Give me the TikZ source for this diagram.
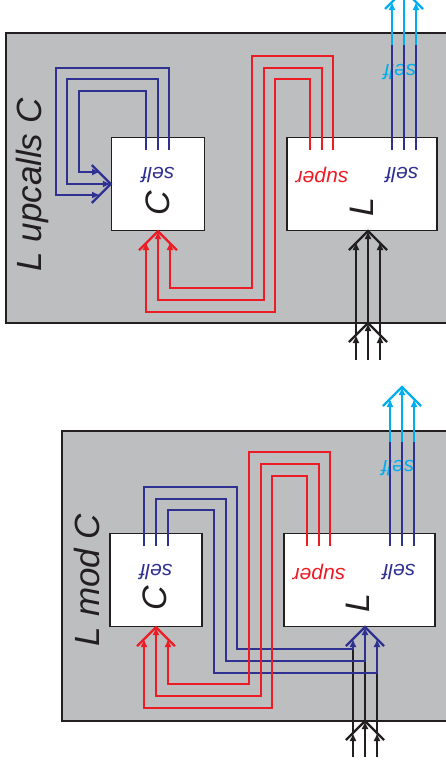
\documentclass[tikz,border=0pt]{standalone}
\usepackage{fontspec}
\setsansfont{Liberation Sans}
\usetikzlibrary{arrows.meta}
\definecolor{MixInk}{HTML}{231F20}
\definecolor{MixPanel}{HTML}{BCBEC0}
\definecolor{MixSelf}{HTML}{2E3192}
\definecolor{MixSuper}{HTML}{ED1C24}
\definecolor{MixOut}{HTML}{00AEEF}
\tikzset{
  mix panel/.style={draw=MixInk, fill=MixPanel, line width=1.3pt},
  mix box/.style={draw=MixInk, fill=white, line width=1.3pt, inner sep=0pt},
  mix wire/.style={line width=2.3pt, line join=miter},
  mix tip/.style={mix wire, -{Latex[length=8pt,width=7pt]}},
  mix title/.style={font=\sffamily\itshape\fontsize{35}{40}\selectfont, text=MixInk, rotate=90},
  mix name/.style={font=\sffamily\itshape\fontsize{34}{40}\selectfont, text=MixInk, rotate=90},
  mix call/.style={font=\sffamily\itshape\fontsize{21}{24}\selectfont, rotate=180},
}
\newcommand{\FanUp}[2]{\draw[mix wire, draw=#1] (#2) ++(-19,19) -- (#2) -- ++(19,19);}
\newcommand{\FanRight}[2]{\draw[mix wire, draw=#1] (#2) ++(-19,-19) -- (#2) -- ++(-19,19);}

\begin{document}
\begin{tikzpicture}[x=1pt,y=-1pt]
  \useasboundingbox (0,0) rectangle (446,769);
  \clip (0,0) rectangle (446,769);

  % upper panel: L upcalls C
  \draw[mix panel] (6,33) rectangle (452,323);
  \node[mix title] (tU) at (32,185) {L upcalls C};
  \node[mix box, minimum width=93pt, minimum height=93pt] (cU) at (158,184) {};
  \node[mix box, minimum width=150pt, minimum height=93pt] (lU) at (362,184) {};
  \node[mix call, text=MixSelf] (cUself) at (158,175) {self};
  \node[mix name] (cUname) at (158,203) {C};
  \node[mix call, text=MixSuper] (lUsuper) at (322,175) {super};
  \node[mix call, text=MixSelf] (lUself) at (402,175) {self};
  \node[mix name] (lUname) at (362,207) {L};
  \node[mix call, text=MixOut] (oUself) at (400,72) {self};

  \draw[mix tip, draw=MixSelf] (169,150) -- (169,68) -- (56,68) -- (56,195) -- (100,195);
  \draw[mix tip, draw=MixSelf] (158,150) -- (158,79) -- (67,79) -- (67,184) -- (cU.west);
  \draw[mix tip, draw=MixSelf] (146,150) -- (146,91) -- (79,91) -- (79,172) -- (100,172);
  \FanRight{MixSelf}{cU.west}

  \draw[mix tip, draw=MixSuper] (310,150) -- (310,79) -- (275,79) -- (275,312) -- (146,312) -- (146,242);
  \draw[mix tip, draw=MixSuper] (322,150) -- (322,68) -- (264,68) -- (264,300) -- (158,300) -- (cU.south);
  \draw[mix tip, draw=MixSuper] (333,150) -- (333,56) -- (252,56) -- (252,288) -- (170,288) -- (170,242);
  \FanUp{MixSuper}{cU.south}

  \draw[mix wire, draw=MixSelf] (392,150) -- (392,45);
  \draw[mix wire, draw=MixSelf] (404,150) -- (404,45);
  \draw[mix wire, draw=MixSelf] (416,150) -- (416,45);
  \draw[mix tip, draw=MixOut] (392,45) -- (392,2);
  \draw[mix tip, draw=MixOut] (404,45) -- (404,-10);
  \draw[mix tip, draw=MixOut] (416,45) -- (416,2);
  \FanUp{MixOut}{404,-10}

  \draw[mix tip, draw=MixInk] (356,360) -- (356,335);
  \draw[mix tip, draw=MixInk] (356,335) -- (356,242);
  \draw[mix tip, draw=MixInk] (368,360) -- (368,323);
  \draw[mix tip, draw=MixInk] (368,323) -- (368,231);
  \draw[mix tip, draw=MixInk] (380,360) -- (380,335);
  \draw[mix tip, draw=MixInk] (380,335) -- (380,242);
  \FanUp{MixInk}{368,323}
  \FanUp{MixInk}{368,231}

  % lower panel: L mod C
  \draw[mix panel] (62,431) rectangle (452,721);
  \node[mix title] (tM) at (87,580) {L mod C};
  \node[mix box, minimum width=92pt, minimum height=93pt] (cM) at (156,580) {};
  \node[mix box, minimum width=151pt, minimum height=93pt] (lM) at (359.5,580) {};
  \node[mix call, text=MixSelf] (cMself) at (156,572) {self};
  \node[mix name] (cMname) at (155,598) {C};
  \node[mix call, text=MixSuper] (lMsuper) at (319,572) {super};
  \node[mix call, text=MixSelf] (lMself) at (399,572) {self};
  \node[mix name] (lMname) at (358,603) {L};
  \node[mix call, text=MixOut] (oMself) at (398,468) {self};

  \draw[mix tip, draw=MixInk] (353,757) -- (353,733);
  \draw[mix wire, draw=MixInk] (353,733) -- (353,649);
  \draw[mix tip, draw=MixInk] (365,757) -- (365,721);
  \draw[mix wire, draw=MixInk] (365,721) -- (365,661);
  \draw[mix tip, draw=MixInk] (377,757) -- (377,733);
  \draw[mix wire, draw=MixInk] (377,733) -- (377,673);
  \FanUp{MixInk}{365,721}

  \draw[mix tip, draw=MixSelf] (144,546) -- (144,487) -- (237,487) -- (237,649) -- (353,649) -- (353,639);
  \draw[mix tip, draw=MixSelf] (156,546) -- (156,499) -- (226,499) -- (226,661) -- (365,661) -- (365,627);
  \draw[mix tip, draw=MixSelf] (168,546) -- (168,510) -- (214,510) -- (214,673) -- (377,673) -- (377,639);
  \FanUp{MixSelf}{365,627}

  \draw[mix tip, draw=MixSuper] (307,546) -- (307,476) -- (272,476) -- (272,708) -- (144,708) -- (144,639);
  \draw[mix tip, draw=MixSuper] (319,546) -- (319,464) -- (261,464) -- (261,696) -- (156,696) -- (cM.south);
  \draw[mix tip, draw=MixSuper] (330,546) -- (330,452) -- (249,452) -- (249,684) -- (168,684) -- (168,639);
  \FanUp{MixSuper}{cM.south}

  \draw[mix wire, draw=MixSelf] (390,546) -- (390,442);
  \draw[mix wire, draw=MixSelf] (402,546) -- (402,442);
  \draw[mix wire, draw=MixSelf] (414,546) -- (414,442);
  \draw[mix tip, draw=MixOut] (390,442) -- (390,399);
  \draw[mix tip, draw=MixOut] (402,442) -- (402,387);
  \draw[mix tip, draw=MixOut] (414,442) -- (414,399);
  \FanUp{MixOut}{402,387}
\end{tikzpicture}
\end{document}
